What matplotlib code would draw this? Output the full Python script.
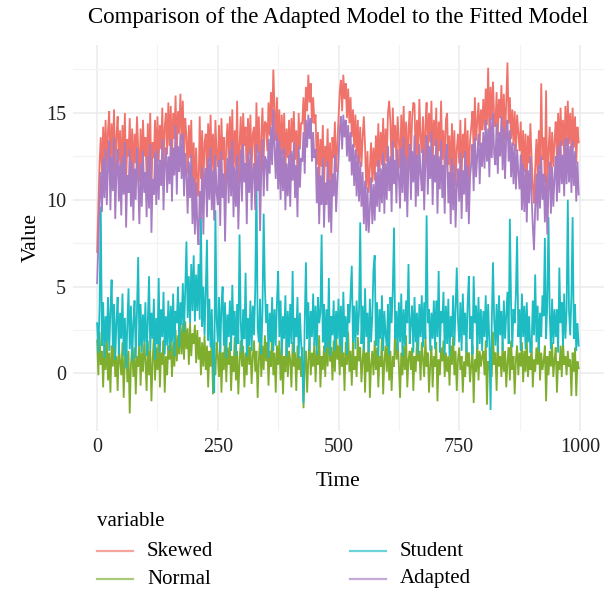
import numpy as np
import matplotlib
matplotlib.use("Agg")
import matplotlib.pyplot as plt
from matplotlib.lines import Line2D

plt.rcParams['font.family'] = ['Liberation Serif', 'DejaVu Serif']

# sample times (every 2.5 steps)
time = np.arange(0, 1000, 2.5)

skewed = [
    7.0, 9.6, 12.1, 13.6, 11.5, 14.2, 12.0, 14.6, 11.9, 14.0,
    15.1, 11.6, 14.4, 12.4, 15.2, 11.2, 13.7, 14.8, 12.1, 14.0,
    11.4, 14.3, 12.2, 15.0, 10.9, 13.5, 12.5, 14.7, 11.8, 14.1,
    11.1, 13.8, 12.1, 14.8, 13.0, 11.0, 14.1, 11.7, 14.6, 12.5,
    13.6, 11.3, 14.4, 11.8, 15.0, 10.6, 13.3, 12.4, 14.6, 11.9,
    14.8, 12.2, 14.3, 12.9, 15.3, 11.7, 14.2, 15.0, 12.6, 15.6,
    13.1, 15.4, 12.2, 15.0, 13.5, 16.0, 12.6, 15.1, 13.8, 16.1,
    13.4, 15.7, 12.4, 14.7, 13.6, 11.5, 14.3, 12.4, 14.6, 11.0,
    13.3, 10.4, 13.0, 11.0, 10.2, 14.8, 11.2, 14.0, 10.6, 13.3,
    13.8, 11.3, 14.4, 12.2, 14.9, 11.7, 13.8, 11.2, 14.6, 12.6,
    11.9, 14.3, 10.9, 14.7, 12.3, 13.6, 10.4, 13.2, 14.4, 12.0,
    14.8, 12.4, 15.2, 11.4, 14.0, 11.9, 15.7, 10.9, 13.1, 14.8,
    12.1, 15.0, 13.1, 14.2, 11.0, 14.7, 12.6, 14.9, 11.7, 13.8,
    14.2, 11.6, 15.6, 12.7, 14.8, 10.7, 13.7, 15.3, 12.4, 14.5,
    14.4, 12.8, 15.6, 13.7, 16.2, 14.2, 17.5, 15.2, 13.4, 15.9,
    12.8, 15.2, 12.3, 14.9, 12.6, 15.0, 11.7, 14.1, 12.4, 14.6,
    11.9, 14.7, 13.3, 15.1, 12.3, 14.0, 11.4, 15.0, 12.9, 14.4,
    14.4, 15.9, 13.7, 16.5, 15.1, 17.2, 15.6, 16.7, 14.4, 15.9,
    14.4, 14.9, 12.0, 13.9, 10.9, 13.5, 11.9, 14.3, 10.8, 13.1,
    11.9, 14.1, 11.0, 13.3, 10.5, 13.6, 12.4, 14.5, 11.6, 13.1,
    14.5, 16.2, 16.9, 15.1, 17.2, 15.8, 16.7, 14.7, 16.4, 14.4,
    15.9, 13.6, 15.2, 13.0, 14.9, 12.4, 14.6, 12.1, 14.2, 11.9,
    13.6, 14.8, 13.1, 10.6, 12.8, 10.4, 11.8, 13.3, 11.0, 13.0,
    11.1, 13.7, 11.9, 14.4, 11.6, 13.9, 12.0, 14.7, 11.5, 14.1,
    12.2, 15.0, 15.7, 14.5, 11.6, 15.3, 13.0, 14.3, 12.0, 14.8,
    13.4, 11.8, 14.9, 12.6, 15.4, 12.1, 14.5, 11.3, 14.1, 15.1,
    12.2, 14.7, 15.6, 15.5, 11.9, 14.6, 12.4, 15.8, 13.6, 12.7,
    14.8, 11.7, 14.2, 15.6, 12.5, 15.0, 13.3, 15.7, 11.9, 14.6,
    13.1, 15.3, 11.5, 14.5, 12.8, 15.7, 12.3, 14.0, 11.5, 14.6,
    15.0, 12.0, 13.7, 11.0, 14.4, 11.7, 14.0, 10.8, 12.9, 13.8,
    12.1, 14.6, 11.2, 13.8, 12.4, 14.7, 11.5, 14.0, 10.9, 13.4,
    14.2, 15.1, 12.7, 15.9, 13.4, 14.5, 15.6, 13.1, 15.2, 14.0,
    15.8, 14.0, 16.4, 14.3, 17.6, 13.6, 16.5, 14.6, 16.8, 14.8,
    14.2, 16.2, 13.7, 15.8, 14.7, 16.6, 13.9, 16.1, 13.4, 15.6,
    17.9, 14.4, 15.9, 13.5, 15.2, 13.1, 15.1, 12.8, 14.9, 13.8,
    12.8, 14.5, 11.7, 14.0, 11.6, 13.8, 11.0, 13.7, 12.1, 14.4,
    12.4, 10.8, 9.8, 11.9, 13.5, 11.1, 14.0, 11.8, 16.7, 12.3,
    13.6, 11.0, 16.3, 10.4, 12.8, 14.2, 11.5, 13.9, 11.9, 13.4,
    14.5, 12.1, 15.0, 12.6, 15.3, 13.1, 14.6, 12.4, 15.4, 13.1,
    15.7, 13.2, 15.0, 12.6, 15.3, 13.0, 14.8, 12.1, 14.2, 13.3,
]

normal = [
    1.9, -0.1, 2.4, 0.5, 1.3, -0.8, 1.8, 0.2, 2.2, -0.4,
    1.2, -1.1, 1.6, 0.4, 2.1, -0.2, 1.0, -1.0, 1.5, 0.7,
    -0.1, 1.8, -1.4, 0.9, 1.9, -0.5, 1.3, -2.3, 0.5, 1.6,
    -0.2, 1.5, -1.2, 1.0, 0.4, 2.2, -0.7, 1.2, 0.1, 1.8,
    0.7, -1.0, 1.9, -0.1, 1.3, -1.6, 0.8, 2.1, -0.4, 1.5,
    0.2, 2.4, -0.8, 1.2, 0.5, 1.9, -1.1, 1.0, -0.1, 1.6,
    0.8, 2.1, -0.2, 1.8, 0.4, 2.5, 0.7, 2.2, 1.1, 2.8,
    1.1, 2.9, 0.8, 3.0, 1.4, 2.6, 0.5, 2.9, 1.0, 2.3,
    1.7, 2.8, 0.6, 2.5, 0.8, 2.1, -0.1, 1.8, 0.4, 2.2,
    0.2, 1.6, -0.8, 1.3, 0.4, 2.0, -1.2, 0.9, -0.1, 1.8,
    1.0, -0.2, 1.9, -1.1, 1.2, 0.2, 2.2, -0.5, 1.5, 0.5,
    1.8, -1.0, 1.0, 0.1, 2.1, -0.4, 1.3, -1.2, 0.7, 1.9,
    0.4, 1.6, -0.8, 1.2, -0.1, 2.4, 0.5, 1.5, -0.6, 1.0,
    1.9, 0.1, 1.3, -1.4, 0.8, 2.1, -0.2, 1.6, 0.2, 2.2,
    0.7, 1.8, -0.7, 1.3, 0.4, 2.4, -0.1, 1.2, -1.1, 1.6,
    0.5, 1.9, -0.4, 1.5, -1.2, 1.0, 0.1, 2.1, -0.2, 1.3,
    0.8, -0.8, 1.8, 0.4, 1.2, -1.0, 1.6, 0.2, 1.0, -0.2,
    1.5, -2.0, 0.5, 1.3, -1.1, 0.8, 1.9, -0.1, 1.2, 0.4,
    1.8, -0.5, 1.3, 0.5, 2.2, -0.8, 1.0, 0.2, 1.6, -0.2,
    2.1, 0.4, 2.6, 0.7, 1.5, -0.4, 1.9, 0.1, 2.3, 0.8,
    1.6, -0.1, 2.2, 0.4, 1.2, -1.0, 1.8, 0.5, 2.4, 0.1,
    1.3, -0.7, 1.9, 0.2, 1.0, -0.2, 2.1, 0.7, 1.5, -0.5,
    0.8, 1.8, -1.1, 1.2, 0.1, 2.2, -1.4, 0.5, 1.3, -0.1,
    1.9, 0.2, 1.5, -0.8, 1.0, 0.4, 2.1, -1.2, 0.7, 1.6,
    0.1, 2.1, -0.4, 1.3, -1.0, 1.0, 0.4, 2.8, 0.8, 1.8,
    0.5, -1.4, 1.2, -0.1, 1.6, 0.2, 2.2, -0.8, 0.8, 1.3,
    0.2, 1.5, -1.0, 1.0, 0.1, 1.9, 0.7, 1.3, -0.4, 1.8,
    0.8, -0.2, 2.1, 0.4, 1.2, -1.1, 0.5, 1.6, -0.8, 1.0,
    0.4, 1.8, -1.6, 0.8, -0.1, 1.5, 0.7, 1.9, -0.2, 1.2,
    0.1, 1.0, -0.7, 1.6, 0.5, 2.2, -0.1, 1.3, -1.0, 0.8,
    1.5, 0.2, 1.0, -1.1, 0.7, -0.2, 1.8, 0.4, 1.2, -0.5,
    0.5, 1.6, -1.7, 0.8, 0.1, 1.9, -0.4, 1.3, 0.4, 1.0,
    1.3, -0.1, 1.9, -1.8, 0.7, 0.2, 1.5, -0.2, 2.4, 0.5,
    1.2, -1.0, 1.6, 0.4, 1.0, -0.2, 1.8, 0.1, 1.3, -0.8,
    0.7, 1.5, -0.4, 1.9, 0.2, 1.0, -1.2, 0.8, 1.6, -0.1,
    1.2, 0.4, 1.8, -0.5, 1.3, 0.1, 2.1, -0.2, 1.0, 0.2,
    1.9, -0.8, 0.8, 0.1, 1.5, 0.5, 2.2, -0.4, 1.2, 0.2,
    0.7, 1.6, -1.6, 1.0, -0.1, 1.3, 0.4, 1.8, -0.2, 0.8,
    1.5, -1.1, 0.7, 0.2, 1.6, -0.2, 1.9, 0.5, 1.0, -0.1,
    1.3, 0.4, 0.8, -1.3, 1.2, 0.1, 1.5, -1.3, 0.7, 0.3,
]

student = [
    2.9, 1.2, 3.8, 9.6, 1.6, 4.1, 0.9, 3.3, 1.8, 4.4,
    1.3, 3.6, 5.4, 1.5, 4.0, 0.8, 3.0, 4.4, 1.1, 3.5,
    2.0, 4.6, 1.0, 3.2, 0.3, 2.8, 4.9, 1.4, 3.9, 0.7,
    2.9, 4.2, 0.9, 3.6, 6.7, 1.6, 4.0, 1.2, 3.4, 1.8,
    4.1, 1.0, 3.0, 5.6, 1.3, 3.5, 2.0, 4.3, 0.8, 3.2,
    1.7, 5.5, 1.2, 3.7, 2.1, 4.7, 1.1, 3.3, 1.6, 4.2,
    1.3, 3.9, 1.8, 4.6, 1.0, 3.6, 2.9, 5.0, 1.5, 4.1,
    2.8, 5.2, 2.4, 4.8, 7.6, 3.2, 5.6, 2.9, 6.3, 3.6,
    6.8, 3.0, 5.7, 3.6, 6.3, 3.1, 9.0, 2.7, 5.0, 2.2,
    4.7, 7.7, 1.9, 4.3, 1.5, 3.7, 1.0, -1.1, 9.4, 3.1,
    1.8, 4.4, 1.2, 3.9, 5.0, 1.6, 4.1, 0.9, 3.4, 2.1,
    4.2, 1.3, 5.1, 2.2, 3.6, 1.0, 4.0, 1.7, 8.0, 3.0,
    1.2, 3.7, 2.0, 5.8, 1.0, 3.2, 1.6, 4.2, 1.3, 3.9,
    2.2, 4.8, 11.3, 2.6, 1.8, 4.3, 1.1, 3.6, 9.2, 5.0,
    2.9, 4.0, 0.9, 3.5, 1.8, 4.4, 1.3, 3.7, 1.6, 4.1,
    5.9, 2.1, 4.2, 1.1, 3.3, 2.0, 4.5, 1.0, 3.6, 1.5,
    4.0, 1.7, 5.9, 1.2, 3.2, 2.1, 4.4, 0.9, 3.5, 1.8,
    0.6, -1.7, 2.9, 6.4, 2.0, 4.1, 1.3, 3.6, 2.1, 4.6,
    1.6, 3.9, 1.1, 4.4, 2.9, 3.5, 8.0, 1.8, 4.0, 1.2,
    3.7, 1.5, 5.5, 1.0, 3.3, 2.2, 4.2, 1.3, 3.6, 2.0,
    4.3, 1.6, 3.9, 1.2, 4.7, 2.1, 3.3, 1.1, 4.0, 2.9,
    4.5, 6.2, 1.8, 3.9, 1.4, 4.2, 2.2, 3.5, 8.7, 1.7,
    3.9, 1.3, 4.9, 2.1, 3.5, 1.2, 4.3, 1.8, 3.3, 6.0,
    6.8, 1.6, 4.1, 1.0, 3.7, 2.0, 4.5, 1.3, 3.6, 2.2,
    1.6, 4.0, 1.1, 4.4, 2.9, 4.8, 8.4, 2.0, 3.6, 1.3,
    4.1, 1.8, 4.6, 1.0, 3.7, 1.6, 4.2, 2.9, 6.3, 1.7,
    2.9, 3.9, 1.2, 4.4, 1.8, 3.5, 1.1, 4.0, 2.1, 4.5,
    1.5, 4.1, 2.0, 9.1, 2.9, 3.7, 1.3, 3.5, 2.0, 4.2,
    1.4, 4.2, 2.1, 5.9, 1.2, 3.6, 2.9, 4.7, 1.1, 3.9,
    1.7, 4.3, 1.0, 3.3, 2.1, 4.5, 1.6, 3.7, 6.1, 3.1,
    1.8, 4.1, 1.3, 4.6, 2.2, 3.5, 1.2, 4.0, 5.6, 2.0,
    3.3, 1.1, 5.6, 2.9, 3.9, 1.4, 4.4, 1.7, 3.7, 1.3,
    3.6, 2.1, 4.5, 1.5, 4.0, 1.8, -2.1, 2.9, 6.4, 3.1,
    1.6, 4.0, 1.2, 4.5, 2.2, 3.6, 1.3, 4.2, 2.0, 3.3,
    4.7, 1.7, 8.9, 4.0, 1.5, 3.7, 2.9, 4.6, 7.9, 2.1,
    3.7, 1.3, 4.6, 2.1, 3.9, 1.4, 4.1, 1.8, 3.3, 1.2,
    1.5, 4.2, 2.2, 5.7, 1.8, 3.9, 1.3, 3.5, 2.1, 4.5,
    3.3, 7.8, 2.0, 4.0, 9.0, 3.5, 1.4, 4.3, 1.7, 3.7,
    2.1, 3.7, 1.2, 6.1, 2.9, 4.1, 1.6, 4.6, 2.0, 3.6,
    10.0, 3.6, 2.2, 4.5, 9.0, 2.0, 4.0, 1.3, 2.9, 1.6,
]

adapted = [
    5.2, 7.4, 9.9, 11.6, 9.3, 12.4, 10.1, 12.9, 9.7, 11.9,
    13.4, 9.4, 12.5, 10.5, 13.6, 8.9, 11.6, 12.9, 9.9, 12.1,
    9.1, 12.5, 10.3, 13.3, 8.4, 11.4, 10.4, 12.9, 9.6, 12.2,
    8.8, 11.8, 10.0, 13.0, 11.0, 8.6, 12.1, 9.6, 12.8, 10.4,
    11.6, 9.0, 12.5, 9.5, 13.2, 8.1, 11.2, 10.3, 12.7, 9.7,
    12.9, 10.0, 12.3, 10.8, 13.5, 9.4, 12.1, 13.0, 10.4, 12.5,
    10.9, 13.5, 9.9, 13.0, 11.4, 14.3, 10.3, 13.1, 11.6, 13.8,
    11.2, 13.8, 10.2, 12.7, 11.4, 9.2, 12.2, 10.1, 12.6, 8.6,
    11.3, 8.0, 11.0, 8.6, 7.4, 10.5, 8.9, 11.9, 8.0, 11.2,
    11.8, 9.0, 12.4, 10.0, 13.0, 9.4, 11.7, 8.8, 12.6, 10.4,
    9.7, 12.3, 8.5, 12.8, 10.1, 11.5, 7.6, 11.1, 12.4, 9.8,
    12.9, 10.2, 13.4, 9.0, 11.9, 9.6, 12.6, 8.3, 10.9, 12.9,
    9.9, 13.2, 11.0, 12.1, 8.6, 12.7, 10.4, 13.0, 9.4, 11.7,
    12.1, 9.4, 13.2, 10.5, 12.8, 8.2, 11.6, 13.5, 10.2, 12.5,
    12.3, 10.5, 13.5, 11.5, 14.2, 12.0, 15.2, 13.0, 11.2, 13.8,
    10.6, 13.4, 10.0, 12.9, 10.5, 13.0, 9.4, 12.1, 10.2, 12.6,
    9.6, 12.8, 11.1, 13.3, 10.1, 12.0, 9.0, 13.1, 10.7, 12.4,
    12.2, 13.9, 11.5, 14.6, 13.0, 14.9, 13.5, 14.7, 12.2, 13.9,
    12.4, 12.9, 9.8, 11.9, 8.6, 11.4, 9.7, 12.4, 8.4, 11.0,
    9.7, 12.2, 8.7, 11.2, 8.1, 11.5, 10.2, 12.6, 9.3, 11.0,
    12.3, 14.0, 14.8, 12.9, 14.9, 13.6, 14.6, 12.5, 14.3, 12.2,
    13.9, 11.4, 13.2, 10.8, 12.9, 10.2, 12.6, 9.9, 12.2, 9.6,
    11.6, 8.6, 11.1, 8.2, 10.7, 8.1, 9.5, 11.3, 8.6, 10.9,
    8.8, 11.6, 9.6, 12.3, 9.3, 11.8, 9.8, 12.7, 9.2, 12.1,
    10.0, 13.1, 10.5, 12.5, 9.3, 13.4, 10.9, 12.3, 9.8, 12.9,
    11.3, 9.5, 13.0, 10.4, 13.6, 9.9, 12.5, 9.0, 12.1, 13.2,
    10.0, 12.8, 11.0, 13.7, 9.6, 12.6, 10.2, 13.2, 11.5, 10.5,
    12.9, 9.4, 12.2, 13.7, 10.3, 13.1, 11.2, 13.9, 9.7, 12.6,
    11.0, 13.5, 9.2, 12.5, 10.6, 13.4, 10.1, 12.0, 9.2, 12.7,
    13.2, 9.8, 11.6, 8.6, 12.4, 9.4, 12.0, 8.4, 10.8, 11.8,
    9.9, 12.7, 8.9, 11.7, 10.3, 12.8, 9.3, 12.0, 8.6, 11.3,
    12.1, 13.2, 10.5, 13.6, 11.3, 12.5, 13.8, 10.9, 13.3, 11.9,
    13.9, 11.8, 14.6, 12.2, 14.1, 11.3, 14.7, 12.4, 15.0, 12.6,
    12.0, 14.4, 11.5, 13.9, 12.5, 14.8, 11.7, 14.2, 11.2, 13.6,
    14.6, 12.2, 14.0, 11.3, 13.3, 10.9, 13.2, 10.6, 12.9, 11.6,
    10.6, 12.6, 9.4, 12.1, 9.3, 11.8, 8.7, 11.7, 9.8, 12.5,
    10.2, 8.5, 7.1, 9.6, 11.5, 8.8, 12.0, 9.5, 12.5, 10.0,
    11.5, 8.7, 11.4, 8.0, 10.6, 12.2, 9.2, 11.9, 9.6, 11.3,
    12.5, 9.9, 13.1, 10.4, 13.4, 10.9, 12.6, 10.2, 13.5, 10.9,
    13.6, 11.0, 13.1, 10.4, 13.4, 10.8, 12.8, 9.9, 12.2, 10.3,
]

series_names = ["Skewed", "Normal", "Student", "Adapted"]
series_values = [skewed, normal, student, adapted]
colors = ["#F0736B", "#7FAE2E", "#1DBCC3", "#A77CC2"]

x_ticks = [0, 250, 500, 750, 1000]
y_ticks = [0, 5, 10, 15]

fig = plt.figure(figsize=(6.08, 5.93), dpi=100)
ax = fig.add_axes([73 / 608, 1 - 431 / 593, (604 - 73) / 608, (431 - 45) / 593])

for name, vals, col in zip(series_names, series_values, colors):
    ax.plot(time, vals, color=col, lw=1.3, solid_joinstyle='miter', zorder=3)

# ggplot-like expansion
all_vals = np.concatenate([np.asarray(v) for v in series_values])
ymin, ymax = all_vals.min(), all_vals.max()
yr = ymax - ymin
ax.set_ylim(ymin - 0.05 * yr, ymax + 0.05 * yr)
ax.set_xlim(-50, 1050)

ax.set_xticks(x_ticks)
ax.set_xticklabels([str(v) for v in x_ticks])
ax.set_yticks(y_ticks)
ax.set_yticklabels([str(v) for v in y_ticks])
ax.set_xticks([125, 375, 625, 875], minor=True)
ax.set_yticks([2.5, 7.5, 12.5, 17.5], minor=True)
ax.grid(True, which='major', color='#EBEBEB', lw=1.1, zorder=0)
ax.grid(True, which='minor', color='#F2F2F2', lw=0.8, zorder=0)
ax.tick_params(which='both', length=0, labelsize=14.5, colors='#222222', pad=5)
for s in ax.spines.values():
    s.set_visible(False)

ax.set_xlabel("Time", fontsize=15.5, labelpad=11)
ax.set_ylabel("Value", fontsize=15.5, labelpad=4)

fig.text(338 / 608, 1 - 17 / 593, "Comparison of the Adapted Model to the Fitted Model",
         ha='center', va='center', fontsize=16.5)

# legend (bottom)
fig.text(97 / 608, 1 - 522 / 593, "variable", ha='left', va='center', fontsize=15)
leg_pos = [(97, 551), (97, 579), (350, 551), (350, 579)]
for (lx, ly), name, col in zip(leg_pos, series_names, colors):
    fig.add_artist(Line2D([lx / 608, (lx + 36) / 608], [1 - ly / 593, 1 - ly / 593],
                          color=col, lw=1.6, alpha=0.65, transform=fig.transFigure))
    fig.text((lx + 50) / 608, 1 - ly / 593, name, ha='left', va='center', fontsize=15)

fig.savefig("out.png", dpi=100)
